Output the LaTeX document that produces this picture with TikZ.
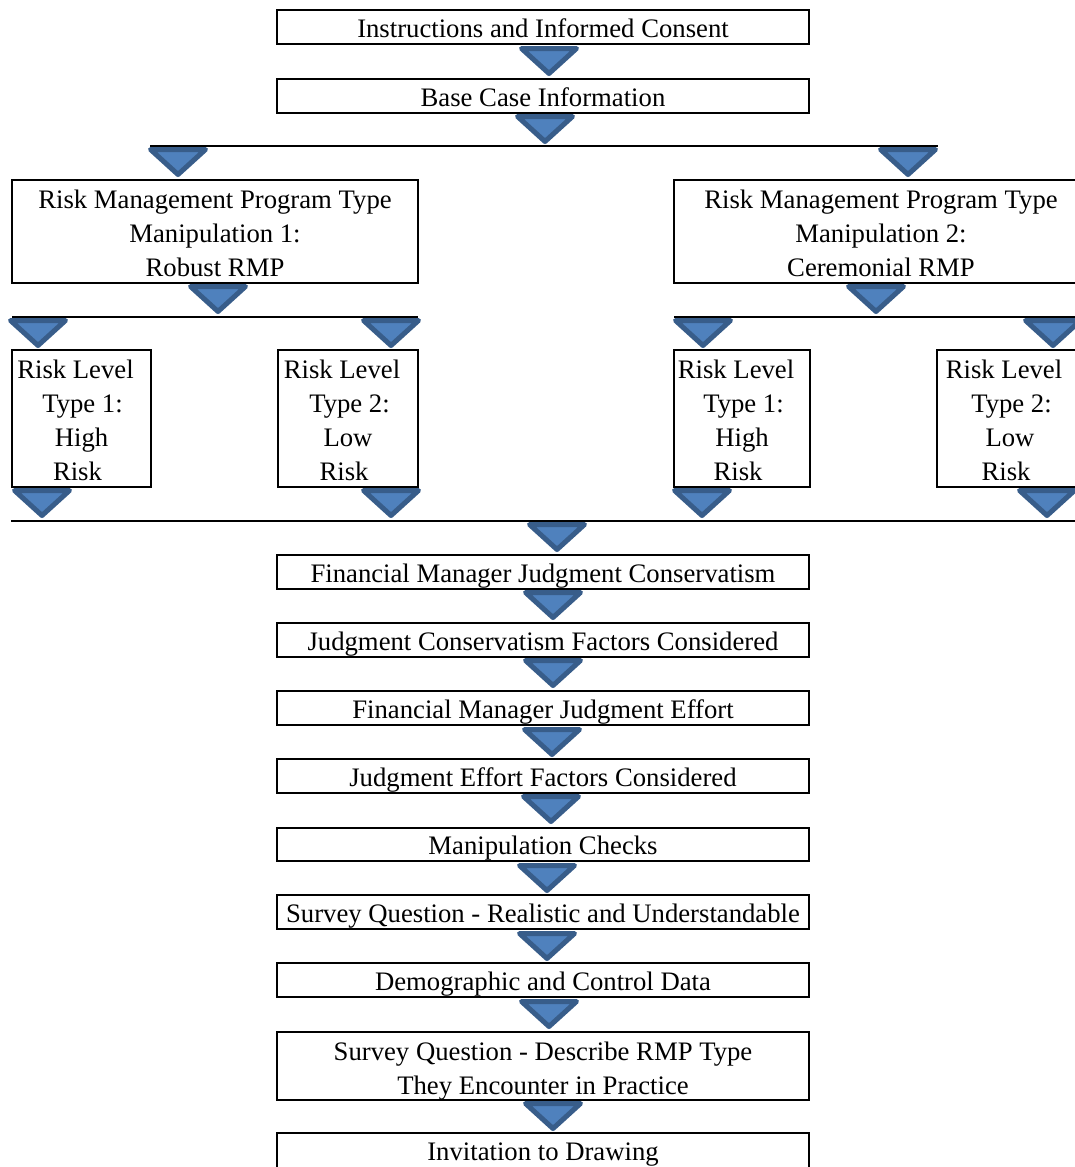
\documentclass[tikz,border=0pt]{standalone}
\usepackage{fontspec}
\setmainfont{Liberation Serif}
\definecolor{arrfill}{RGB}{79,129,189}
\definecolor{arrline}{RGB}{56,93,138}
\newcommand{\dtri}[2]{\filldraw[tri] ({#1-27.5},{#2+2.5}) -- ({#1+27.5},{#2+2.5}) -- (#1,{#2+27.5}) -- cycle;}
\newcommand{\topstrut}{\rule{0pt}{22pt}}
\begin{document}
\begin{tikzpicture}[x=1pt,y=-1pt,
  box/.style={draw=black, line width=2.2pt, fill=white, inner sep=0pt,
    font=\fontsize{26.7}{34}\selectfont, align=center},
  one/.style={box, minimum width=532pt, minimum height=34pt, text height=20.5pt, text depth=0pt},
  rl/.style={box, minimum height=137pt},
  bus/.style={draw=black, line width=2.2pt},
  tri/.style={fill=arrfill, draw=arrline, line width=5pt, line join=round}]
\clip (0,0) rectangle (1075,1167);
\fill[white] (0,0) rectangle (1075,1167);
% bus lines
\coordinate (l1a) at (150,146); \coordinate (l1b) at (938,146);
\coordinate (l2a) at (12,317);  \coordinate (l2b) at (418,317);
\coordinate (l3a) at (674,317); \coordinate (l3b) at (1080,317);
\coordinate (l4a) at (11,521);  \coordinate (l4b) at (1080,521);
\draw[bus] (l1a) -- (l1b);
\draw[bus] (l2a) -- (l2b);
\draw[bus] (l3a) -- (l3b);
\draw[bus] (l4a) -- (l4b);
% boxes
\node[one] (b1) at (543,27) {Instructions and Informed Consent};
\node[one] (b2) at (543,96) {Base Case Information};
\node[box, minimum width=406pt, minimum height=103pt] (rmp1) at (215,231.5)
  {\topstrut Risk Management Program Type\\Manipulation 1:\\Robust RMP};
\node[box, minimum width=414pt, minimum height=103pt] (rmp2) at (881,231.5)
  {\topstrut Risk Management Program Type\\Manipulation 2:\\Ceremonial RMP};
\node[rl, minimum width=139pt] (rl1) at (81.5,418.5)
  {\topstrut Risk Level\hspace*{12pt}\\\hspace*{2pt}Type 1:\\High\\Risk\hspace*{8pt}};
\node[rl, minimum width=140pt] (rl2) at (348,418.5)
  {\topstrut Risk Level\hspace*{12pt}\\\hspace*{3pt}Type 2:\\Low\\Risk\hspace*{8pt}};
\node[rl, minimum width=136pt] (rl3) at (742,418.5)
  {\topstrut Risk Level\hspace*{12pt}\\\hspace*{3pt}Type 1:\\High\\Risk\hspace*{8pt}};
\node[rl, minimum width=146pt] (rl4) at (1010,418.5)
  {\topstrut Risk Level\hspace*{12pt}\\\hspace*{3pt}Type 2:\\Low\\Risk\hspace*{8pt}};
\node[one] (b3) at (543,572) {Financial Manager Judgment Conservatism};
\node[one] (b4) at (543,640) {Judgment Conservatism Factors Considered};
\node[one] (b5) at (543,708) {Financial Manager Judgment Effort};
\node[one] (b6) at (543,776) {Judgment Effort Factors Considered};
\node[one, minimum height=33pt] (b7) at (543,844.5) {Manipulation Checks};
\node[one] (b8) at (543,912) {Survey Question - Realistic and Understandable};
\node[one] (b9) at (543,980) {Demographic and Control Data};
\node[box, minimum width=532pt, minimum height=68pt] (b10) at (543,1066)
  {\rule{0pt}{28pt}Survey Question - Describe RMP Type\\They Encounter in Practice};
\node[one, minimum height=35pt] (b11) at (543,1150.5) {Invitation to Drawing};
% triangles
\dtri{549}{46}
\dtri{545}{114}
\dtri{178}{147}
\dtri{908}{147}
\dtri{218}{284}
\dtri{876}{284}
\dtri{38}{318}
\dtri{391}{318}
\dtri{703}{318}
\dtri{1053}{318}
\dtri{42}{488}
\dtri{391}{488}
\dtri{702}{488}
\dtri{1047}{488}
\dtri{557}{522}
\dtri{553}{590}
\dtri{553}{658}
\dtri{552}{727}
\dtri{551}{794}
\dtri{547}{863}
\dtri{547}{931}
\dtri{549}{999}
\dtri{553}{1101}
\end{tikzpicture}
\end{document}
